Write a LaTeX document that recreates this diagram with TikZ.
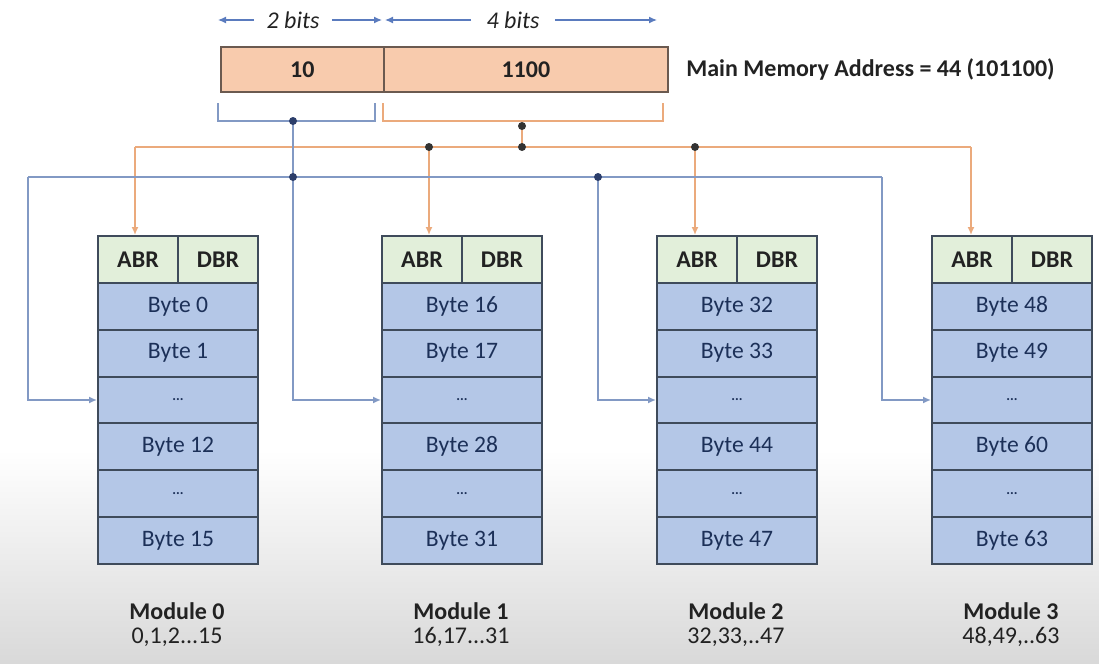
\documentclass[tikz,border=0pt]{standalone}
\usepackage{fontspec}
\setmainfont{Carlito}
\usetikzlibrary{arrows.meta,calc}
\definecolor{peach}{HTML}{F8CBAD}
\definecolor{addrborder}{HTML}{6B5A50}
\definecolor{hdrgreen}{HTML}{E2EFDA}
\definecolor{rowblue}{HTML}{B4C7E7}
\definecolor{boxborder}{HTML}{3F4B5B}
\definecolor{navytext}{HTML}{1C3058}
\definecolor{orangeline}{HTML}{EBAA7C}
\definecolor{blueline}{HTML}{8299C4}
\definecolor{dimblue}{HTML}{5A7BBE}
\definecolor{dotcol}{HTML}{333333}
\definecolor{bdotcol}{HTML}{2C3E6B}
\definecolor{txtgray}{HTML}{222222}
\newcommand{\drawmodule}[7]{%
  \node[hdr] (m#1-abr) at (#2,235) {ABR};
  \node[hdr] (m#1-dbr) at (#2+80,235) {DBR};
  \node[rowbox] (m#1-r1) at (#2,282) {Byte #3};
  \node[rowbox] (m#1-r2) at (#2,328.8) {Byte #4};
  \node[rowbox,dotsrow] (m#1-r3) at (#2,375.6) {...};
  \node[rowbox] (m#1-r4) at (#2,422.4) {Byte #5};
  \node[rowbox,dotsrow] (m#1-r5) at (#2,469.2) {...};
  \node[rowbox] (m#1-r6) at (#2,516) {Byte #6};
  \node[modlbl] (m#1-name) at (#2+80,611) {Module #1};
  \node[rnglbl] (m#1-range) at (#2+80,637) {#7};
}
\begin{document}
\begin{tikzpicture}[x=0.5pt,y=-0.5pt,
  addr/.style={draw=addrborder, fill=peach, line width=0.9pt, minimum height=22.5pt,
    inner sep=0pt, anchor=north west, text=txtgray, font=\fontsize{12}{14}\selectfont\bfseries},
  hdr/.style={draw=boxborder, fill=hdrgreen, line width=1pt, minimum width=40pt,
    minimum height=23.5pt, inner sep=0pt, anchor=north west, text=txtgray,
    font=\fontsize{12}{14}\selectfont\bfseries},
  rowbox/.style={draw=boxborder, fill=rowblue, line width=1pt, minimum width=80pt,
    minimum height=23.4pt, inner sep=0pt, anchor=north west, text=navytext,
    font=\fontsize{11.8}{14}\selectfont},
  dotsrow/.style={font=\fontsize{7}{8}\selectfont\bfseries},
  modlbl/.style={inner sep=0pt, text=txtgray, font=\fontsize{12}{14}\selectfont\bfseries},
  rnglbl/.style={inner sep=0pt, text=txtgray, font=\fontsize{12}{14}\selectfont},
  dimlbl/.style={inner ysep=0pt, text=txtgray, font=\fontsize{12}{14}\selectfont\itshape},
  oline/.style={draw=orangeline, line width=0.75pt},
  bline/.style={draw=blueline, line width=0.75pt},
  dline/.style={draw=dimblue, line width=0.6pt},
  arr/.style={-{Latex[length=4pt,width=3.5pt]}},
  odot/.style={circle, fill=dotcol, inner sep=0pt, minimum size=4pt},
  bdot/.style={circle, fill=bdotcol, inner sep=0pt, minimum size=4pt}]

\useasboundingbox (0,0) rectangle (1099,664);
\shade[top color=white, bottom color=black!15] (0,450) rectangle (1099,664);

% address register
\node[addr, minimum width=81.5pt] (a2) at (220,46) {10};
\node[addr, minimum width=142pt] (a4) at (383,46) {1100};
\node[anchor=west, inner sep=0pt, text=txtgray, font=\fontsize{12}{14}\selectfont\bfseries]
  (mma) at (686,69) {Main Memory Address = 44 (101100)};

% bit-width arrows
\node[dimlbl, inner xsep=6pt] (t2) at (293,20) {2 bits};
\node[dimlbl, inner xsep=7.5pt] (t4) at (513,20) {4 bits};
\coordinate (t2l) at (218,20);
\coordinate (t2r) at (382,20);
\coordinate (t4l) at (385,20);
\coordinate (t4r) at (657,20);
\draw[dline,arr] (t2) -- (t2l);
\draw[dline,arr] (t2) -- (t2r);
\draw[dline,arr] (t4) -- (t4l);
\draw[dline,arr] (t4) -- (t4r);

% brackets
\draw[bline] (218,103) -- (218,121) -- (375,121) -- (375,103);
\draw[oline] (383,103) -- (383,121) -- (663,121) -- (663,103);

% modules
\drawmodule{0}{97}{0}{1}{12}{15}{0,1,2...15}
\drawmodule{1}{381}{16}{17}{28}{31}{16,17...31}
\drawmodule{2}{656}{32}{33}{44}{47}{32,33,..47}
\drawmodule{3}{931}{48}{49}{60}{63}{48,49,..63}

% orange (word) bus
\coordinate (ob) at (522,126);
\coordinate (oj) at (522,147);
\coordinate (o0) at (135,147);
\coordinate (o1) at (429,147);
\coordinate (o2) at (695,147);
\coordinate (o3) at (971,147);
\draw[oline] (ob) -- (oj);
\draw[oline] (o0) -- (o3);
\draw[oline,arr] (o0) -- (o0 |- m0-abr.north);
\draw[oline,arr] (o1) -- (o1 |- m1-abr.north);
\draw[oline,arr] (o2) -- (o2 |- m2-abr.north);
\draw[oline,arr] (o3) -- (o3 |- m3-abr.north);

% blue (module select) bus
\coordinate (bb) at (293,121);
\coordinate (bj) at (293,177);
\coordinate (b0) at (28,177);
\coordinate (b2) at (598,177);
\coordinate (b3) at (882,177);
\draw[bline] (b0) -- (b3);
\draw[bline,arr] (b0) |- (m0-r3.west);
\draw[bline,arr] (bb) |- (m1-r3.west);
\draw[bline,arr] (b2) |- (m2-r3.west);
\draw[bline,arr] (b3) |- (m3-r3.west);

% junction dots
\node[bdot] (d1) at (bb) {};
\node[bdot] (d2) at (bj) {};
\node[bdot] (d3) at (b2) {};
\node[odot] (d4) at (ob) {};
\node[odot] (d5) at (oj) {};
\node[odot] (d6) at (o1) {};
\node[odot] (d7) at (o2) {};
\end{tikzpicture}
\end{document}
